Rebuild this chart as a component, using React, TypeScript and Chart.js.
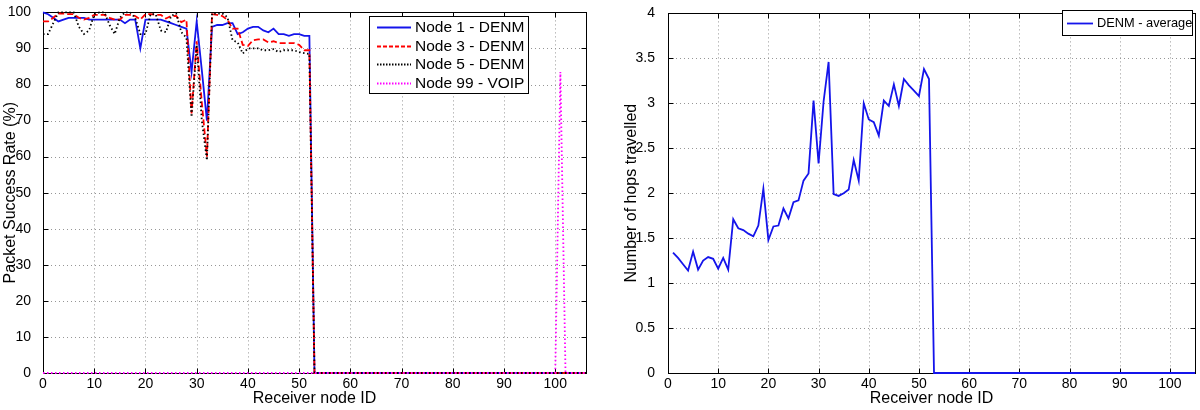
import React, { useEffect, useRef } from "react";
import { Chart, registerables } from "chart.js";

Chart.register(...registerables);

// ---------- Left chart data: Packet Success Rate (%) ----------
const denmNodes = [
  0, 1, 2, 3, 4, 5, 6, 7, 8, 9, 10, 11, 12, 13, 14, 15, 16, 17, 18, 19, 20,
  21, 22, 23, 24, 25, 26, 27, 28, 29, 30, 31, 32, 33, 34, 35, 36, 37, 38, 39,
  40, 41, 42, 43, 44, 45, 46, 47, 48, 49, 50, 51, 52, 53, 106,
];
const node1Denm = [
  100, 99.5, 98.5, 97.5, 98, 98.5, 98.5, 98.5, 98.5, 98, 98, 98, 98, 98, 98,
  98, 97, 98, 98, 90, 98, 98, 98, 98, 97.5, 97, 96.5, 96, 95.5, 83.5, 97.5, 84,
  70, 96, 96.5, 96.5, 97, 97, 94, 94.5, 95.5, 96, 96, 95, 94.5, 95.5, 94, 94,
  93.5, 94, 94, 93.5, 93.5, 0, 0,
];
const node3Denm = [
  97.5, 97.5, 98.5, 99.7, 99.7, 99.5, 99.5, 98.5, 98, 98.5, 99.3, 99.3, 99.3,
  98.5, 98, 98, 99.3, 99.3, 99, 98, 99.5, 99.5, 99.3, 99.3, 98.3, 99, 99, 97.3,
  98, 72, 92, 75, 60, 99.5, 99.3, 99, 98, 95.5, 95.5, 91, 90.7, 92.3, 92.5,
  92.5, 91.7, 92, 91.5, 91.5, 91.5, 91.5, 91, 89.5, 89.5, 0, 0,
];
const node5Denm = [
  94, 94, 97, 100, 100, 100, 100, 96, 94, 95, 99.5, 100, 100, 96.5, 94, 98.5,
  100, 100, 98.5, 94, 94, 99.5, 99.5, 95, 94.5, 99, 99.7, 94.5, 93, 71, 91, 70,
  59, 99.7, 99.7, 99.7, 98.7, 92.3, 91.7, 88.6, 90, 90, 90, 89.5, 89.5, 89.8,
  89, 89.5, 89.5, 89.5, 89, 88.7, 88.5, 0, 0,
];
const voipNodes = [0, 100, 101, 102, 106];
const node99Voip = [0, 0, 83.5, 0, 0];

// ---------- Right chart data: Number of hops travelled ----------
const hopNodes = [
  1, 2, 3, 4, 5, 6, 7, 8, 9, 10, 11, 12, 13, 14, 15, 16, 17, 18, 19, 20, 21,
  22, 23, 24, 25, 26, 27, 28, 29, 30, 31, 32, 33, 34, 35, 36, 37, 38, 39, 40,
  41, 42, 43, 44, 45, 46, 47, 48, 49, 50, 51, 52, 53, 105,
];
const denmAverage = [
  1.34, 1.28, 1.21, 1.14, 1.35, 1.15, 1.25, 1.29, 1.27, 1.16, 1.28, 1.15, 1.71,
  1.61, 1.59, 1.55, 1.52, 1.64, 2.05, 1.48, 1.63, 1.64, 1.83, 1.72, 1.9, 1.92,
  2.14, 2.22, 3.03, 2.33, 3.02, 3.46, 1.99, 1.97, 2.0, 2.04, 2.37, 2.14, 3.0,
  2.82, 2.79, 2.64, 3.03, 2.97, 3.21, 2.97, 3.27, 3.2, 3.14, 3.08, 3.38, 3.27,
  0, 0,
];

// ---------- Axis labels ----------
const xTitle = "Receiver node ID";
const leftYTitle = "Packet Success Rate (%)";
const rightYTitle = "Number of hops travelled";

const FONT = "'Liberation Sans', Arial, Helvetica, sans-serif";
const BLUE = "rgb(20,20,235)";
const RED = "rgb(255,0,0)";
const BLACK = "rgb(0,0,0)";
const MAGENTA = "rgb(255,0,255)";
const GRID = "rgb(150,150,150)";

const toPoints = (xs: number[], ys: number[]) =>
  xs.map((x, i) => ({ x, y: ys[i] }));

// Draws MATLAB-style dotted grid, box and inward ticks, plus boxed legend
const matlabAxes = {
  id: "matlabAxes",
  beforeDatasetsDraw(chart: any) {
    const { ctx, chartArea: a, scales } = chart;
    const xs = scales.x;
    const ys = scales.y;
    ctx.save();
    ctx.lineWidth = 1;
    ctx.strokeStyle = GRID;
    ctx.setLineDash([1, 3]);
    xs.ticks.forEach((t: any) => {
      const px = Math.round(xs.getPixelForValue(t.value)) + 0.5;
      if (px <= a.left + 1 || px >= a.right - 1) return;
      ctx.beginPath();
      ctx.moveTo(px, a.top);
      ctx.lineTo(px, a.bottom);
      ctx.stroke();
    });
    ys.ticks.forEach((t: any) => {
      const py = Math.round(ys.getPixelForValue(t.value)) + 0.5;
      if (py <= a.top + 1 || py >= a.bottom - 1) return;
      ctx.beginPath();
      ctx.moveTo(a.left, py);
      ctx.lineTo(a.right, py);
      ctx.stroke();
    });
    ctx.setLineDash([]);
    ctx.strokeStyle = "#000";
    const L = Math.round(a.left) + 0.5;
    const R = Math.round(a.right) + 0.5;
    const T = Math.round(a.top) + 0.5;
    const B = Math.round(a.bottom) + 0.5;
    ctx.strokeRect(L, T, R - L, B - T);
    const tl = 5;
    ctx.beginPath();
    xs.ticks.forEach((t: any) => {
      const px = Math.round(xs.getPixelForValue(t.value)) + 0.5;
      ctx.moveTo(px, B);
      ctx.lineTo(px, B - tl);
      ctx.moveTo(px, T);
      ctx.lineTo(px, T + tl);
    });
    ys.ticks.forEach((t: any) => {
      const py = Math.round(ys.getPixelForValue(t.value)) + 0.5;
      ctx.moveTo(L, py);
      ctx.lineTo(L + tl, py);
      ctx.moveTo(R, py);
      ctx.lineTo(R - tl, py);
    });
    ctx.stroke();
    ctx.restore();
  },
  afterDraw(chart: any, _args: any, opts: any) {
    if (!opts || !opts.box) return;
    const { ctx } = chart;
    const { x, y, w, h, rowTop, rowH, sampleX0, sampleX1, textX, fontSize } =
      opts.box;
    ctx.save();
    ctx.fillStyle = "#fff";
    ctx.fillRect(x, y, w, h);
    ctx.strokeStyle = "#000";
    ctx.lineWidth = 1;
    ctx.strokeRect(x + 0.5, y + 0.5, w, h);
    ctx.font = `${fontSize}px ${FONT}`;
    ctx.textBaseline = "middle";
    ctx.textAlign = "left";
    chart.data.datasets.forEach((ds: any, i: number) => {
      const cy = Math.round(y + rowTop + i * rowH) + 0.5;
      ctx.strokeStyle = ds.borderColor;
      ctx.lineWidth = ds.borderWidth;
      ctx.setLineDash(ds.legendDash || []);
      ctx.beginPath();
      ctx.moveTo(x + sampleX0, cy);
      ctx.lineTo(x + sampleX1, cy);
      ctx.stroke();
      ctx.setLineDash([]);
      ctx.fillStyle = "#000";
      ctx.fillText(ds.label, x + textX, cy);
    });
    ctx.restore();
  },
};

function axisOptions(
  min: number,
  max: number,
  step: number,
  title: string,
  isX: boolean,
  fitSize: number,
  titlePad: any,
  tickPad: number
) {
  return {
    type: "linear",
    min,
    max,
    grid: { display: false },
    border: { display: false },
    ticks: {
      stepSize: step,
      includeBounds: false,
      autoSkip: false,
      maxRotation: 0,
      padding: tickPad,
      color: "#000",
      font: { family: FONT, size: 14 },
      callback: (v: any) => String(v),
    },
    title: {
      display: true,
      text: title,
      color: "#000",
      font: { family: FONT, size: 16 },
      padding: titlePad,
    },
    afterFit: (s: any) => {
      if (isX) s.height = fitSize;
      else s.width = fitSize;
    },
  };
}

function LeftChart() {
  const ref = useRef<HTMLCanvasElement | null>(null);
  useEffect(() => {
    if (!ref.current) return;
    const chart = new Chart(ref.current, {
      type: "line",
      data: {
        datasets: [
          {
            label: "Node 1 - DENM",
            data: toPoints(denmNodes, node1Denm),
            borderColor: BLUE,
            borderWidth: 1.8,
            order: 4,
          },
          {
            label: "Node 3 - DENM",
            data: toPoints(denmNodes, node3Denm),
            borderColor: RED,
            borderWidth: 1.8,
            borderDash: [6, 3],
            legendDash: [4, 2],
            order: 3,
          },
          {
            label: "Node 5 - DENM",
            data: toPoints(denmNodes, node5Denm),
            borderColor: BLACK,
            borderWidth: 1.8,
            borderDash: [1.5, 2.5],
            legendDash: [1.5, 1.5],
            order: 2,
          },
          {
            label: "Node 99 - VOIP",
            data: toPoints(voipNodes, node99Voip),
            borderColor: MAGENTA,
            borderWidth: 1.8,
            borderDash: [1.5, 2.5],
            legendDash: [1.5, 1.5],
            order: 1,
          },
        ] as any,
      },
      options: {
        responsive: false,
        animation: false,
        events: [],
        elements: { point: { radius: 0 }, line: { tension: 0, fill: false } },
        datasets: { line: { clip: false } } as any,
        layout: { padding: { top: 8, right: 14, left: 0, bottom: 0 } },
        plugins: {
          legend: { display: false },
          tooltip: { enabled: false },
          matlabAxes: {
            box: {
              x: 369,
              y: 16,
              w: 159,
              h: 77,
              rowTop: 11,
              rowH: 18.5,
              sampleX0: 8,
              sampleX1: 42,
              textX: 46,
              fontSize: 15.5,
            },
          },
        } as any,
        scales: {
          x: axisOptions(0, 106, 10, xTitle, true, 37, { top: 0, bottom: 2 }, -5) as any,
          y: axisOptions(0, 100, 10, leftYTitle, false, 43, { top: 0.5, bottom: 0 }, 4) as any,
        },
      },
      plugins: [matlabAxes],
    });
    return () => chart.destroy();
  }, []);
  return (
    <canvas
      ref={ref}
      width={600}
      height={410}
      style={{ position: "absolute", left: 0, top: 0, width: 600, height: 410 }}
    />
  );
}

function RightChart() {
  const ref = useRef<HTMLCanvasElement | null>(null);
  useEffect(() => {
    if (!ref.current) return;
    const chart = new Chart(ref.current, {
      type: "line",
      data: {
        datasets: [
          {
            label: "DENM - average",
            data: toPoints(hopNodes, denmAverage),
            borderColor: BLUE,
            borderWidth: 1.8,
          },
        ] as any,
      },
      options: {
        responsive: false,
        animation: false,
        events: [],
        elements: { point: { radius: 0 }, line: { tension: 0, fill: false } },
        datasets: { line: { clip: false } } as any,
        layout: { padding: { top: 8, right: 5, left: 0, bottom: 0 } },
        plugins: {
          legend: { display: false },
          tooltip: { enabled: false },
          matlabAxes: {
            box: {
              x: 462,
              y: 10,
              w: 130,
              h: 25,
              rowTop: 12.5,
              rowH: 18.5,
              sampleX0: 5,
              sampleX1: 31,
              textX: 35,
              fontSize: 12.8,
            },
          },
        } as any,
        scales: {
          x: axisOptions(0, 105, 10, xTitle, true, 37, { top: 0, bottom: 2 }, -5) as any,
          y: axisOptions(0, 4, 0.5, rightYTitle, false, 68, { top: 22.4, bottom: 0 }, 5) as any,
        },
      },
      plugins: [matlabAxes],
    });
    return () => chart.destroy();
  }, []);
  return (
    <canvas
      ref={ref}
      width={600}
      height={410}
      style={{ position: "absolute", left: 600, top: 0, width: 600, height: 410 }}
    />
  );
}

export default function App() {
  return (
    <div
      style={{
        position: "fixed",
        left: 0,
        top: 0,
        width: 1200,
        height: 410,
        background: "#fff",
        overflow: "hidden",
      }}
    >
      <LeftChart />
      <RightChart />
    </div>
  );
}
